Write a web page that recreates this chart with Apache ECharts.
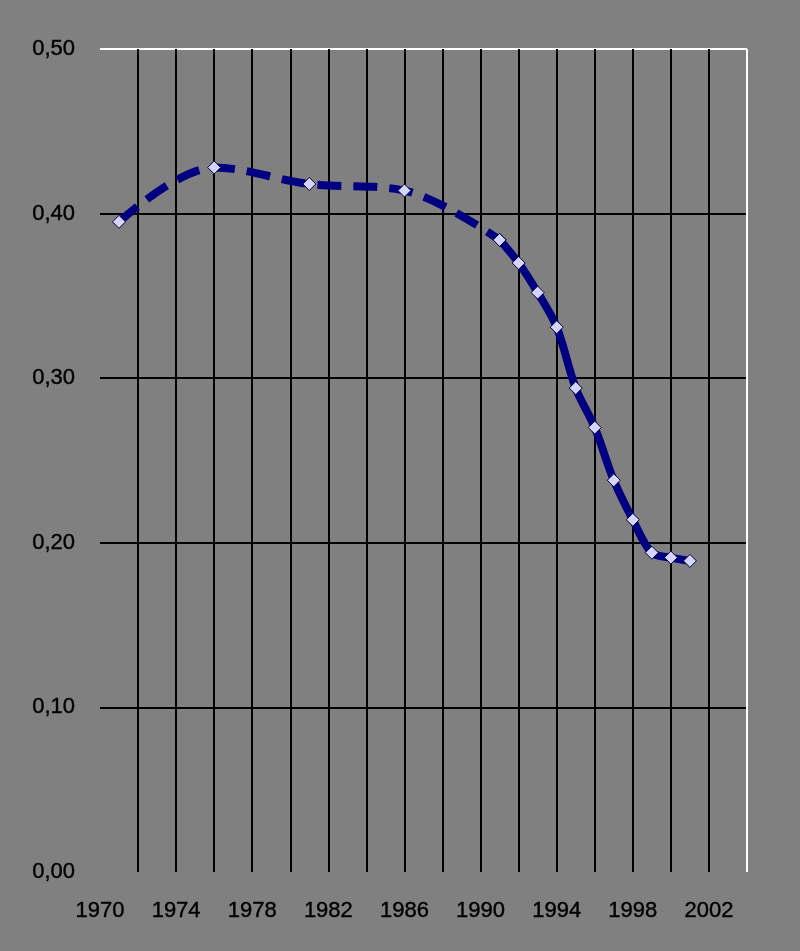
<!DOCTYPE html>
<html>
<head>
<meta charset="utf-8">
<script src="https://cdn.jsdelivr.net/npm/echarts@6/dist/echarts.min.js"></script>
<style>
  html, body { margin: 0; padding: 0; background: #808080; }
  #main { width: 800px; height: 951px; }
</style>
</head>
<body>
<div id="main"></div>
<script>
// values
var years = [1971, 1976, 1981, 1986, 1991, 1992, 1993, 1994, 1995, 1996, 1997, 1998, 1999, 2000, 2001];
var values = [0.395, 0.428, 0.418, 0.414, 0.384, 0.370, 0.352, 0.331, 0.294, 0.270, 0.238, 0.214, 0.194, 0.191, 0.189];
var xMin = 1970, xMax = 2004, xStep = 2, xLabelStep = 4;
var yMin = 0, yMax = 0.5, yStep = 0.1;

var points = years.map(function (y, i) { return [y, values[i]]; });
var dashedPart = points.slice(0, 5);
var solidPart = points.slice(4);

// first grid line hidden (left/bottom edge), last one white (frame)
var xLineColors = [];
for (var t = xMin; t <= xMax; t += xStep) {
  xLineColors.push(t === xMin ? 'rgba(0,0,0,0)' : (t === xMax ? '#ffffff' : '#000000'));
}
var yLineColors = ['rgba(0,0,0,0)', '#000000', '#000000', '#000000', '#000000', '#ffffff'];

var font = { fontFamily: 'Liberation Sans', fontSize: 22, color: '#000', textBorderColor: '#000', textBorderWidth: 0.4 };

var chart = echarts.init(document.getElementById('main'));
chart.setOption({
  backgroundColor: '#808080',
  animation: false,
  grid: { left: 100, right: 53, top: 49, bottom: 79 },
  xAxis: {
    type: 'value',
    min: xMin,
    max: xMax,
    interval: xStep,
    axisLine: { show: false },
    axisTick: { show: false },
    axisLabel: Object.assign({
      margin: 28,
      showMaxLabel: false,
      formatter: function (v) { return (v - xMin) % xLabelStep === 0 ? String(v) : ''; }
    }, font),
    splitLine: { show: true, showMinLine: true, showMaxLine: true, lineStyle: { color: xLineColors, width: 2 } }
  },
  yAxis: {
    type: 'value',
    min: yMin,
    max: yMax,
    interval: yStep,
    axisLine: { show: false },
    axisTick: { show: false },
    axisLabel: Object.assign({
      margin: 25,
      formatter: function (v) { return v.toFixed(2).replace('.', ','); }
    }, font),
    splitLine: { show: true, showMinLine: true, showMaxLine: true, lineStyle: { color: yLineColors, width: 2 } }
  },
  series: [
    {
      type: 'line',
      data: dashedPart,
      smooth: 0.35,
      lineStyle: { color: '#000080', width: 8, type: [24, 12] },
      symbol: 'diamond',
      symbolSize: 13,
      itemStyle: { color: '#d4d4ff', borderColor: '#000033', borderWidth: 1 },
      z: 3
    },
    {
      type: 'line',
      data: solidPart,
      smooth: 0.35,
      lineStyle: { color: '#000080', width: 8 },
      symbol: 'diamond',
      symbolSize: 13,
      itemStyle: { color: '#d4d4ff', borderColor: '#000033', borderWidth: 1 },
      z: 3
    }
  ]
});
</script>
</body>
</html>
